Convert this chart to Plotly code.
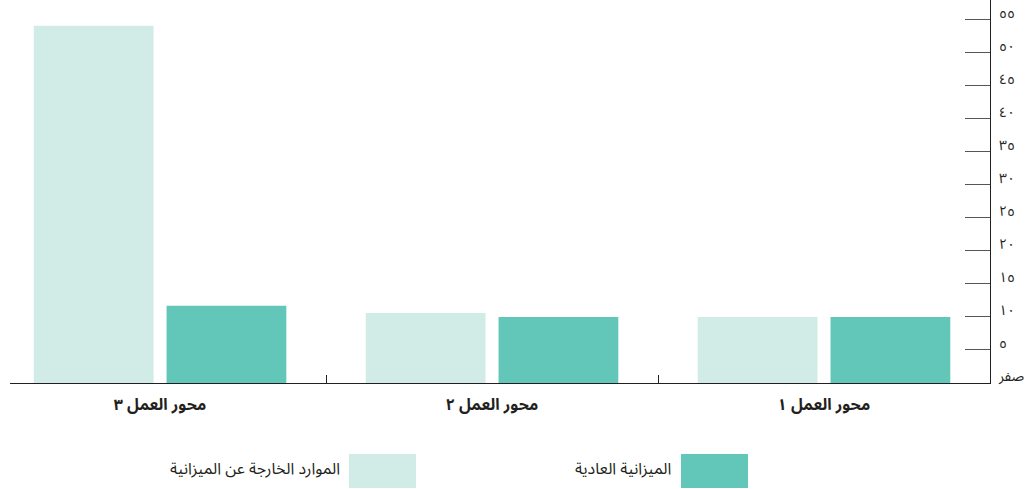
import plotly.graph_objects as go

categories = ["محور العمل ١", "محور العمل ٢", "محور العمل ٣"]
regular_budget = [10, 10, 11.7]
extra_budget = [10, 10.6, 54.1]
series_names = ["الميزانية العادية", "الموارد الخارجة عن الميزانية"]
y_tickvals = [0, 5, 10, 15, 20, 25, 30, 35, 40, 45, 50, 55]
y_ticktext = ["صفر", "٥", "١٠", "١٥", "٢٠", "٢٥", "٣٠", "٣٥", "٤٠", "٤٥", "٥٠", "٥٥"]

DARK = "#62c6b9"
LIGHT = "#d1ebe6"
FONT = "Noto Sans Arabic, DejaVu Sans, sans-serif"

W, H = 1035, 489
ML, MR, MT, MB = 10, 45, 0, 106
PW, PH = W - ML - MR, H - MT - MB


def px(x):
    return (x - ML) / PW


def py(y):
    return (H - MB - y) / PH


fig = go.Figure()
fig.add_trace(go.Bar(x=categories, y=regular_budget, name=series_names[0],
                     marker=dict(color=DARK, line=dict(width=0))))
fig.add_trace(go.Bar(x=categories, y=extra_budget, name=series_names[1],
                     marker=dict(color=LIGHT, line=dict(width=0))))

fig.update_layout(
    width=W, height=H,
    margin=dict(l=ML, r=MR, t=MT, b=MB, autoexpand=False),
    paper_bgcolor="white", plot_bgcolor="white",
    barmode="group", bargap=0.2, bargroupgap=0.098,
    showlegend=False,
    font=dict(family=FONT, color="#231f20", size=14),
)
fig.update_xaxes(
    type="category", range=[2.452, -0.5], automargin=False,
    showline=True, linecolor="#231f20", linewidth=1.3,
    ticks="inside", tickson="boundaries", ticklen=8, tickcolor="#231f20", tickwidth=1,
    tickangle=0,
    tickfont=dict(family=FONT, size=16, color="#231f20", weight="bold"),
    ticklabelstandoff=7,
    showgrid=False, zeroline=False,
)
fig.update_yaxes(
    side="right", range=[0, 58], automargin=False,
    tickvals=y_tickvals, ticktext=y_ticktext,
    showline=True, linecolor="#231f20", linewidth=1.3,
    ticks="inside", ticklen=25, tickcolor="#555555", tickwidth=1,
    tickfont=dict(family=FONT, size=14, color="#231f20"),
    ticklabelshift=-7, ticklabelstandoff=5, ticklabeloverflow="allow",
    showgrid=False, zeroline=False,
)

# Legend drawn as swatches + labels
legend_items = [
    (681, 748, DARK, series_names[0], 673),
    (349, 416, LIGHT, series_names[1], 342),
]
for x0, x1, col, label, tx in legend_items:
    fig.add_shape(type="rect", xref="paper", yref="paper",
                  x0=px(x0), x1=px(x1), y0=py(488), y1=py(454),
                  fillcolor=col, line=dict(width=0))
    fig.add_annotation(xref="paper", yref="paper", x=px(tx), y=py(469),
                       text=label, showarrow=False, xanchor="right", yanchor="middle",
                       font=dict(family=FONT, size=16, color="#231f20"))

fig.write_html("out.html",
               config={"displayModeBar": False},
               post_script="document.body.style.margin='0';document.body.style.overflow='hidden';")
